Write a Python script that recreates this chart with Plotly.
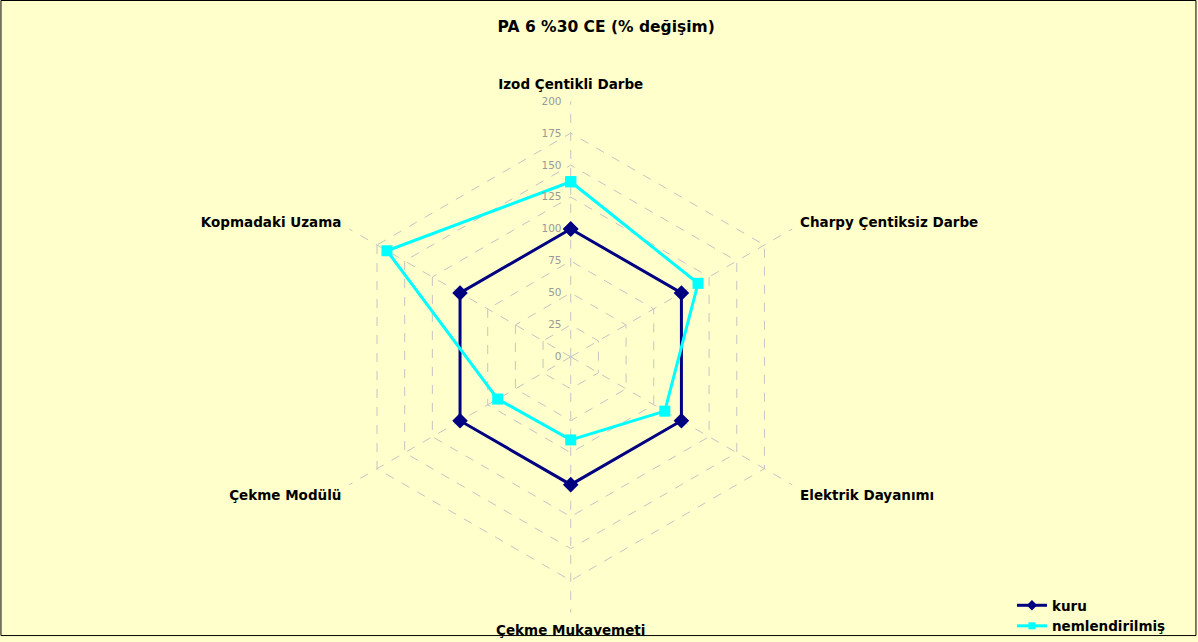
import plotly.graph_objects as go

categories = [
    "Izod Çentikli Darbe",
    "Charpy Çentiksiz Darbe",
    "Elektrik Dayanımı",
    "Çekme Mukavemeti",
    "Çekme Modülü",
    "Kopmadaki Uzama",
]
kuru = [100, 100, 100, 100, 100, 100]
nemlendirilmis = [137, 115, 85, 65, 66, 166]
radial_ticks = [0, 25, 50, 75, 100, 125, 150, 175, 200]

BG = "#FFFFCC"
GRID = "#C4C4C4"
FONT = "DejaVu Sans"

series = [
    ("kuru", kuru, "#000080", "diamond", 12, 8),
    ("nemlendirilmiş", nemlendirilmis, "#00FFFF", "square", 11, 7),
]


def closed(values):
    return values + values[:1]


fig = go.Figure()

for name, values, color, symbol, size, legend_size in series:
    fig.add_trace(
        go.Scatterpolar(
            r=closed(values),
            theta=closed(categories),
            name=name,
            mode="lines+markers",
            line=dict(color=color, width=3),
            marker=dict(symbol=symbol, size=size, color=color),
            showlegend=False,
        )
    )
    # legend entry with smaller marker, like the original
    fig.add_trace(
        go.Scatterpolar(
            r=[None],
            theta=[None],
            name=name,
            mode="lines+markers",
            line=dict(color=color, width=3),
            marker=dict(symbol=symbol, size=legend_size, color=color),
        )
    )

fig.update_layout(
    width=1198,
    height=642,
    margin=dict(l=0, r=0, t=0, b=0),
    paper_bgcolor=BG,
    plot_bgcolor=BG,
    font=dict(family=FONT, color="#000000"),
    title=dict(
        text="<b>PA 6 %30 CE (% değişim)</b>",
        x=0.506,
        xanchor="center",
        y=0.958,
        yanchor="middle",
        font=dict(size=15.5, family=FONT, color="#000000"),
    ),
    polar=dict(
        domain=dict(x=[0.2627, 0.6901], y=[0.0445, 0.8421]),
        bgcolor=BG,
        gridshape="linear",
        angularaxis=dict(
            direction="clockwise",
            rotation=90,
            showline=False,
            showgrid=True,
            gridcolor=GRID,
            griddash="dash",
            gridwidth=1,
            ticks="outside",
            ticklen=6,
            tickcolor="rgba(0,0,0,0)",
            tickfont=dict(size=13.5, family=FONT, color="#000000", weight="bold"),
        ),
        radialaxis=dict(
            range=[radial_ticks[0], radial_ticks[-1]],
            tickvals=radial_ticks,
            angle=90,
            tickangle=90,
            side="counterclockwise",
            showline=False,
            showgrid=True,
            gridcolor=GRID,
            griddash="dash",
            gridwidth=1,
            ticks="outside",
            ticklen=5,
            tickcolor="rgba(0,0,0,0)",
            tickfont=dict(size=10.5, family=FONT, color="#9A9A9A"),
        ),
    ),
    legend=dict(
        x=0.8447,
        y=0.0397,
        xanchor="left",
        yanchor="middle",
        bgcolor="rgba(0,0,0,0)",
        font=dict(size=13.5, family=FONT, color="#000000", weight="bold"),
        itemwidth=30,
        tracegroupgap=0,
    ),
    shapes=[
        dict(
            type="rect",
            xref="paper",
            yref="paper",
            x0=0.0008,
            x1=0.9983,
            y0=0.0085,
            y1=0.9992,
            line=dict(color="#000000", width=1),
            fillcolor="rgba(0,0,0,0)",
            layer="above",
        )
    ],
)

fig.write_html(
    "out.html",
    config={"displayModeBar": False},
    post_script="document.body.style.margin='0';",
)
